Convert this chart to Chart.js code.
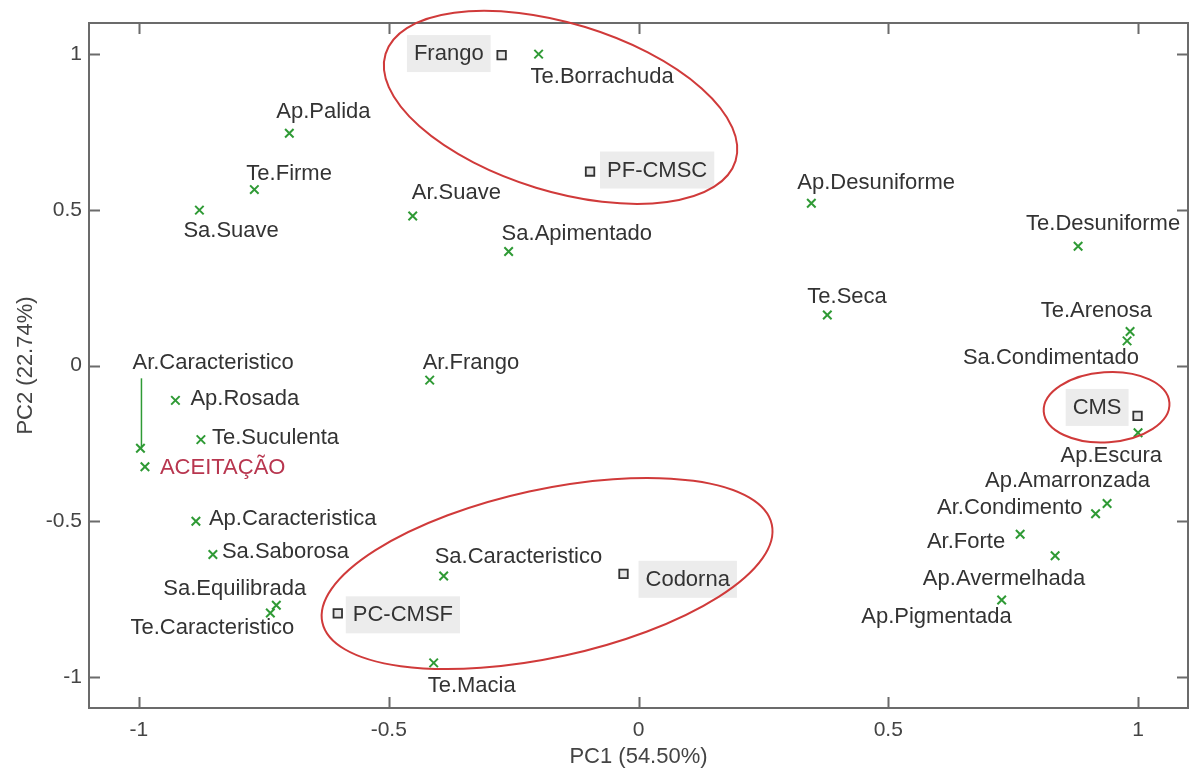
<!DOCTYPE html>
<html>
<head>
<meta charset="utf-8">
<script src="https://cdn.jsdelivr.net/npm/chart.js@4.4.1/dist/chart.umd.min.js"></script>
<style>
  html, body { margin: 0; padding: 0; background: #fff; }
  #pca { display: block; }
</style>
</head>
<body>
<canvas id="pca" width="1196" height="770"></canvas>
<script>
// atributos sensoriais (marcadores verdes)
const attrNames = [
  "Ap.Palida", "Te.Firme", "Sa.Suave", "Te.Borrachuda", "Ar.Suave", "Sa.Apimentado",
  "Ap.Desuniforme", "Te.Desuniforme", "Te.Seca", "Te.Arenosa", "Sa.Condimentado",
  "Ar.Frango", "Ar.Caracteristico", "ACEITAÇÃO", "Ap.Rosada", "Te.Suculenta",
  "Ap.Caracteristica", "Sa.Saborosa", "Sa.Equilibrada", "Te.Caracteristico",
  "Sa.Caracteristico", "Te.Macia", "Ap.Escura", "Ap.Amarronzada", "Ar.Condimento",
  "Ar.Forte", "Ap.Avermelhada", "Ap.Pigmentada"
];
const attrX = [
  -0.699, -0.769, -0.879, -0.200, -0.452, -0.260,
  0.346, 0.880, 0.378, 0.984, 0.978,
  -0.418, -0.997, -0.988, -0.927, -0.876,
  -0.886, -0.852, -0.725, -0.737,
  -0.390, -0.410, 1.000, 0.938, 0.915,
  0.764, 0.834, 0.727
];
const attrY = [
  0.746, 0.565, 0.499, 1.000, 0.480, 0.366,
  0.521, 0.383, 0.162, 0.109, 0.079,
  -0.047, -0.266, -0.325, -0.112, -0.238,
  -0.500, -0.607, -0.770, -0.795,
  -0.676, -0.955, -0.216, -0.443, -0.476,
  -0.542, -0.611, -0.753
];

// amostras (quadrados)
const sampleNames = ["Frango", "PF-CMSC", "PC-CMSF", "Codorna", "CMS"];
const sampleX = [-0.274, -0.097, -0.602, -0.030, 0.999];
const sampleY = [0.997, 0.623, -0.796, -0.669, -0.162];

// centros dos agrupamentos
const groupX = [-0.156, -0.183, 0.937];
const groupY = [0.829, -0.668, -0.134];

const tickValues = [-1, -0.5, 0, 0.5, 1];
const xTitle = "PC1 (54.50%)";
const yTitle = "PC2 (22.74%)";

// posicao dos rotulos: [dx, dy, alinhamento, linha guia]
const attrLabelPos = [
  [-13, -22, "left"], [-8, -17, "left"], [-16, 20, "left"], [-8, 22, "left"],
  [-1, -24, "left"], [-7, -19, "left"], [-14, -21, "left"], [-52, -23, "left"],
  [-20, -19, "left"], [22, -22, "right"], [12, 16, "right"], [-7, -18, "left"],
  [-8, -86, "left", true], [15, 0, "left"], [15, -2, "left"], [11, -3, "left"],
  [13, -3, "left"], [9, -4, "left"], [30, -17, "right"], [24, 14, "right"],
  [-9, -20, "left"], [-6, 22, "left"], [24, 22, "right"], [43, -23, "right"],
  [-13, -7, "right"], [-15, 7, "right"], [30, 22, "right"], [10, 16, "right"]
];
const sampleLabelPos = [
  [-18, -2, "right"], [17, -2, "left"], [15, 1, "left"], [22, 5, "left"], [-16, -9, "right"]
];
// elipses: semi-eixos em px e rotacao em graus
const groupShape = [[183, 84, 17], [230, 84, -12.3], [63, 35, -4]];

const FONT = "'Liberation Sans', Arial, sans-serif";
const GREEN = "#2f9a35";

const overlay = {
  id: "overlay",
  beforeDatasetsDraw(chart) {
    const { ctx, chartArea: a, scales: { x, y } } = chart;
    ctx.save();
    ctx.strokeStyle = "#6b6b6b";
    ctx.lineWidth = 2;
    ctx.strokeRect(a.left, a.top, a.right - a.left, a.bottom - a.top);
    ctx.beginPath();
    tickValues.forEach(v => {
      const px = Math.round(x.getPixelForValue(v)) + 0.5;
      ctx.moveTo(px, a.bottom); ctx.lineTo(px, a.bottom - 11);
      ctx.moveTo(px, a.top); ctx.lineTo(px, a.top + 11);
      const py = Math.round(y.getPixelForValue(v)) + 0.5;
      ctx.moveTo(a.left, py); ctx.lineTo(a.left + 11, py);
      ctx.moveTo(a.right, py); ctx.lineTo(a.right - 11, py);
    });
    ctx.stroke();
    ctx.restore();
  },
  afterDatasetsDraw(chart) {
    const { ctx, scales: { x, y } } = chart;
    ctx.save();
    ctx.font = "22px " + FONT;
    ctx.textBaseline = "middle";

    // rotulos das amostras com fundo cinza
    sampleNames.forEach((name, i) => {
      const [dx, dy, align] = sampleLabelPos[i];
      const px = x.getPixelForValue(sampleX[i]) + dx;
      const py = y.getPixelForValue(sampleY[i]) + dy;
      const w = ctx.measureText(name).width;
      const left = align === "right" ? px - w : px;
      ctx.fillStyle = "#ececec";
      ctx.fillRect(left - 7, py - 18, w + 14, 37);
      ctx.fillStyle = "#333";
      ctx.textAlign = align;
      ctx.fillText(name, px, py + 1);
    });

    // rotulos dos atributos
    attrNames.forEach((name, i) => {
      const [dx, dy, align, leader] = attrLabelPos[i];
      const ox = x.getPixelForValue(attrX[i]);
      const oy = y.getPixelForValue(attrY[i]);
      if (leader) {
        ctx.strokeStyle = GREEN;
        ctx.lineWidth = 1.5;
        ctx.beginPath();
        ctx.moveTo(ox + 1, oy);
        ctx.lineTo(ox + 1, oy + dy + 16);
        ctx.stroke();
      }
      ctx.fillStyle = name === "ACEITAÇÃO" ? "#b8364f" : "#333";
      ctx.textAlign = align;
      ctx.fillText(name, ox + dx, oy + dy + 1);
    });

    // elipses dos agrupamentos
    ctx.strokeStyle = "#d03a3a";
    ctx.lineWidth = 2;
    groupX.forEach((gx, i) => {
      const [ra, rb, rot] = groupShape[i];
      ctx.beginPath();
      ctx.ellipse(x.getPixelForValue(gx), y.getPixelForValue(groupY[i]), ra, rb, rot * Math.PI / 180, 0, Math.PI * 2);
      ctx.stroke();
    });
    ctx.restore();
  }
};

const axisCommon = {
  type: "linear",
  min: -1.1,
  max: 1.1,
  grid: { display: false, drawTicks: false },
  border: { display: false },
  afterBuildTicks: scale => { scale.ticks = tickValues.map(v => ({ value: v })); },
};

new Chart(document.getElementById("pca"), {
  type: "scatter",
  data: {
    datasets: [
      {
        label: "Atributos",
        data: attrX.map((v, i) => ({ x: v, y: attrY[i] })),
        pointStyle: "crossRot",
        radius: 6,
        borderWidth: 2,
        borderColor: GREEN,
        backgroundColor: GREEN,
      },
      {
        label: "Amostras",
        data: sampleX.map((v, i) => ({ x: v, y: sampleY[i] })),
        pointStyle: "rect",
        radius: 6,
        borderWidth: 1.8,
        borderColor: "#333",
        backgroundColor: "#e6e6e6",
      },
    ],
  },
  options: {
    responsive: false,
    animation: false,
    layout: { padding: { top: 23, right: 8, left: 0, bottom: 0 } },
    plugins: { legend: { display: false }, tooltip: { enabled: false } },
    scales: {
      x: {
        ...axisCommon,
        afterFit: scale => { scale.height = 62; },
        ticks: {
          padding: 10,
          color: "#444",
          font: { family: FONT, size: 21 },
          callback: v => String(v),
        },
        title: {
          display: true,
          text: xTitle,
          color: "#444",
          font: { family: FONT, size: 22 },
          padding: { top: 0, bottom: 0 },
        },
      },
      y: {
        ...axisCommon,
        afterFit: scale => { scale.width = 89; },
        ticks: {
          padding: 7,
          color: "#444",
          font: { family: FONT, size: 21 },
          callback: v => String(v),
        },
        title: {
          display: true,
          text: yTitle,
          color: "#444",
          font: { family: FONT, size: 22 },
          padding: { top: 13, bottom: 0 },
        },
      },
    },
  },
  plugins: [overlay],
});
</script>
</body>
</html>
